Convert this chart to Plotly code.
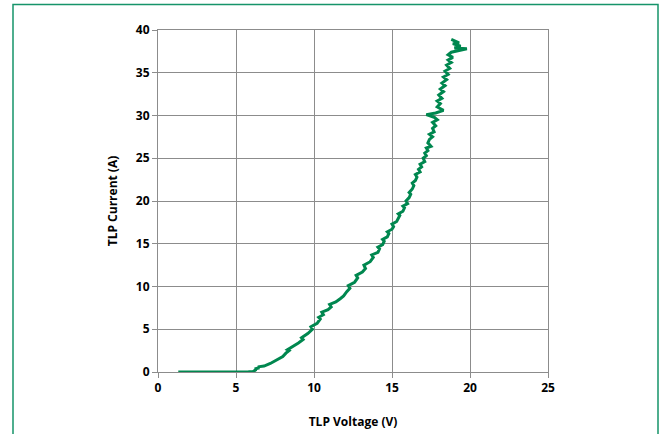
import plotly.graph_objects as go

voltage = [1.3, 2.0, 2.8, 3.5, 4.2, 5.0, 5.8, 6.1, 6.3, 6.2, 6.5, 6.4, 6.8, 7.2, 7.6, 8.0, 8.2, 8.4, 8.3,
           8.7, 9.0, 9.3, 9.2, 9.6, 9.9, 9.8, 10.2, 10.4, 10.3, 10.6, 10.5, 10.9, 11.1, 11.0, 11.4, 11.7,
           11.9, 12.1, 12.3, 12.2, 12.6, 12.8, 12.7, 13.1, 13.3, 13.2, 13.6, 13.8, 13.7,
           14.1, 14.2, 14.1, 14.4, 14.5, 14.4, 14.7, 14.8, 14.7, 15.0, 15.1, 15.0, 15.3, 15.4, 15.5, 15.4,
           15.7, 15.8, 15.7, 16.0, 15.9, 16.1, 16.2, 16.1, 16.3, 16.4, 16.3, 16.5, 16.6, 16.5, 16.8, 16.7,
           16.9, 16.8, 17.1, 17.0, 17.2, 17.1, 17.3, 17.2, 17.5, 17.3, 17.4, 17.6, 17.4, 17.7, 17.6, 17.8,
           17.6, 17.9, 17.7, 17.2, 17.8, 18.3, 17.9, 18.1, 17.9, 18.2, 18.0, 18.3, 18.1, 18.4, 18.2, 18.5,
           18.3, 18.6, 18.4, 18.7, 18.5, 18.8, 18.6, 18.9, 18.6, 18.8, 19.3, 19.8, 19.0, 19.4, 18.9, 19.3, 18.8]
current = [0.0, 0.0, -0.05, 0.02, 0.0, 0.01, 0.02, 0.05, 0.3, 0.35, 0.5, 0.6, 0.7, 1.0, 1.4, 1.8, 2.2, 2.5, 2.6,
           3.0, 3.4, 3.8, 4.0, 4.5, 5.0, 5.3, 5.7, 6.2, 6.4, 6.7, 7.0, 7.3, 7.6, 7.9, 8.2, 8.6,
           8.9, 9.4, 9.8, 10.1, 10.5, 11.0, 11.3, 11.7, 12.1, 12.5, 12.9, 13.4, 13.7,
           14.0, 14.4, 14.6, 14.9, 15.3, 15.5, 15.8, 16.2, 16.4, 16.7, 17.0, 17.3, 17.6, 17.9, 18.3, 18.5,
           18.8, 19.2, 19.4, 19.7, 20.0, 20.4, 20.8, 21.0, 21.4, 21.8, 22.1, 22.4, 22.8, 23.1, 23.4, 23.7,
           24.0, 24.3, 24.6, 25.0, 25.3, 25.6, 25.9, 26.2, 26.4, 26.8, 27.2, 27.5, 27.8, 28.1, 28.5, 28.8,
           29.2, 29.5, 29.8, 30.1, 30.3, 30.6, 31.0, 31.4, 31.7, 32.0, 32.4, 32.8, 33.1, 33.5, 33.8, 34.2,
           34.5, 34.8, 35.2, 35.5, 35.9, 36.2, 36.5, 36.8, 37.1, 37.4, 37.6, 37.8, 37.9, 38.1, 38.4, 38.5, 38.9]

x_ticks = [0, 5, 10, 15, 20, 25]
y_ticks = [0, 5, 10, 15, 20, 25, 30, 35, 40]

W, H = 661, 434
L, R, T, B = 158, 113, 30, 62
pw, ph = W - L - R, H - T - B

def px(x):
    return (x - L) / pw

def py(y):
    return (H - B - y) / ph

fig = go.Figure()
fig.add_trace(go.Scatter(x=voltage, y=current, mode="lines",
                         line=dict(color="#00874F", width=3), showlegend=False))

fam = "Open Sans, Liberation Sans, sans-serif"
font = dict(family=fam, size=12, color="#000000")
axis_common = dict(showgrid=True, gridcolor="#8C8C8C", gridwidth=1,
                   showline=True, linecolor="#8C8C8C", linewidth=1, mirror=True,
                   ticks="outside", ticklen=5, tickcolor="#8C8C8C", zeroline=False,
                   automargin=False,
                   tickfont=dict(family=fam, size=12, color="#000"))

fig.update_layout(
    width=W, height=H,
    margin=dict(l=L, r=R, t=T, b=B, pad=0),
    paper_bgcolor="white", plot_bgcolor="white",
    font=font,
    xaxis=dict(range=[0, 25], tickvals=x_ticks, ticktext=["<b>%d</b>" % v for v in x_ticks],
               title=dict(text="<b>TLP Voltage (V)</b>", standoff=22, font=dict(size=12)),
               **axis_common),
    yaxis=dict(range=[0, 40], tickvals=y_ticks, ticktext=["<b>%d</b>" % v for v in y_ticks],
               title=dict(text="<b>TLP Current (A)</b>", standoff=15, font=dict(size=12)),
               **axis_common),
    shapes=[dict(type="rect", xref="paper", yref="paper",
                 x0=px(13), x1=px(658), y0=py(445), y1=py(4.5),
                 line=dict(color="#16946A", width=1.5), fillcolor="rgba(0,0,0,0)", layer="below")],
)

fig.write_html("out.html", config={"displayModeBar": False},
               post_script="document.body.style.margin='0';")
